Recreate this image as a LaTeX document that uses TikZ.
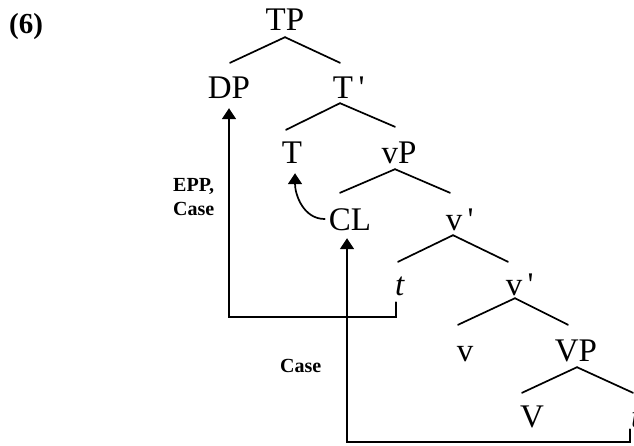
\documentclass[tikz,border=0pt]{standalone}
\usepackage{fontspec}
\setmainfont{Liberation Serif}
\usetikzlibrary{arrows.meta}

\tikzset{
  cat/.style={anchor=base,inner sep=0pt,text height=22pt,text depth=0pt,font=\fontsize{33}{36}\selectfont},
  branch/.style={line width=1.7pt},
  move/.style={line width=1.7pt,-{Triangle[length=11pt,width=14pt]}},
  note/.style={inner sep=0pt,font=\bfseries\fontsize{20}{24}\selectfont},
}
\newcommand{\barmark}{\rlap{\,\textquotesingle}}

\begin{document}
\begin{tikzpicture}[x=1pt,y=-1pt,line cap=round]
\path[use as bounding box] (0,0) rectangle (634,445);
\node[cat,font=\bfseries\fontsize{29}{32}\selectfont] (ex) at (26,33) {(6)};
% tree
\node[cat] (TP) at (285,30) {TP};
\node[cat] (DP) at (229,98) {DP};
\node[cat] (Tbar) at (343,98) {T\barmark};
\node[cat] (T) at (292,163) {T};
\node[cat] (vP) at (399,163) {vP};
\node[cat] (CL) at (350,230) {CL};
\node[cat] (vbarA) at (454,230) {v\barmark};
\node[cat] (tA) at (400,295) {\textit{t}};
\node[cat] (vbarB) at (514,295) {v\barmark};
\node[cat] (v) at (465,361) {v};
\node[cat] (VP) at (576,361) {VP};
\node[cat] (V) at (532,427) {V};
\node[cat] (tB) at (636,427) {\textit{t}};
\draw[branch] ([yshift=-7pt]TP.south) -- ([xshift=1pt,yshift=13pt]DP.north);
\draw[branch] ([yshift=-7pt]TP.south) -- ([xshift=-3pt,yshift=13pt]Tbar.north);
\draw[branch] ([xshift=-3pt,yshift=-5pt]Tbar.south) -- ([xshift=-6pt,yshift=11pt]T.north);
\draw[branch] ([xshift=-3pt,yshift=-5pt]Tbar.south) -- ([xshift=-4pt,yshift=14pt]vP.north);
\draw[branch] ([xshift=-4pt,yshift=-6pt]vP.south) -- ([xshift=-10pt,yshift=15pt]CL.north);
\draw[branch] ([xshift=-4pt,yshift=-6pt]vP.south) -- ([xshift=-4pt,yshift=15pt]vbarA.north);
\draw[branch] ([xshift=-1pt,yshift=-5pt]vbarA.south) -- ([xshift=-2pt,yshift=11pt]tA.north);
\draw[branch] ([xshift=-1pt,yshift=-5pt]vbarA.south) -- ([xshift=-6pt,yshift=11pt]vbarB.north);
\draw[branch] ([xshift=1pt,yshift=-3pt]vbarB.south) -- ([xshift=-7pt,yshift=14pt]v.north);
\draw[branch] ([xshift=1pt,yshift=-3pt]vbarB.south) -- ([xshift=-8pt,yshift=14pt]VP.north);
\draw[branch] ([xshift=1pt,yshift=-6pt]VP.south) -- ([xshift=-10pt,yshift=12pt]V.north);
\draw[branch] ([xshift=1pt,yshift=-6pt]VP.south) -- ([xshift=-3pt,yshift=12pt]tB.north);
% movement
\draw[move] ([xshift=-4pt,yshift=-7pt]tA.south) -- ++(0,15) -| ([yshift=-10pt]DP.south);
\draw[move] ([xshift=-6pt,yshift=-2pt]tB.south) -- ++(0,13) -| ([xshift=-3pt,yshift=-8pt]CL.south);
\draw[move] ([xshift=-4pt]CL.west) to[out=180,in=-90] ([xshift=3pt,yshift=-10pt]T.south);
\node[note,anchor=west,align=left] (lblEPP) at (173,197) {EPP,\\Case};
\node[note,anchor=base west] (lblCase) at (280,372) {Case};
\end{tikzpicture}
\end{document}
